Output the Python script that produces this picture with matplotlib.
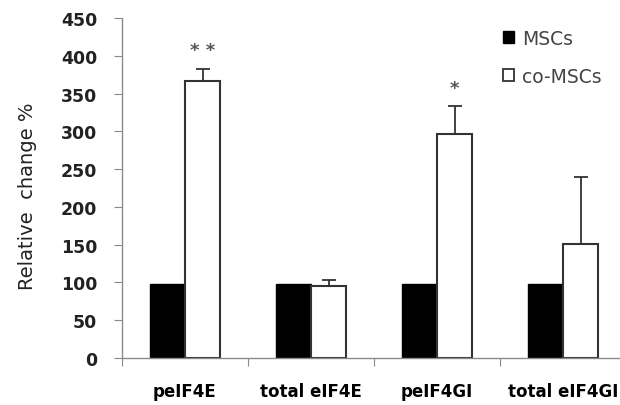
import numpy as np
import matplotlib.pyplot as plt
from matplotlib.patches import Patch

# data
categories = ['peIF4E', 'total eIF4E', 'peIF4GI', 'total eIF4GI']
msc_values = [98, 98, 98, 98]
co_values = [367, 95, 296, 151]
co_errors = [16, 8, 37, 89]
stars = ['* *', '', '*', '']
series_names = ['MSCs', 'co-MSCs']

plt.rcParams['font.family'] = ['DejaVu Sans']

fig = plt.figure(figsize=(6.2, 4.06), dpi=100)
ax = fig.add_axes([122 / 620, 47 / 406, 504 / 620, 340 / 406])

x = np.arange(len(categories)) + 0.5
width = 0.28
grey = '#8a8a8a'

ax.bar(x - width / 2, msc_values, width, color='black', edgecolor='black', linewidth=1)
ax.bar(x + width / 2, co_values, width, color='white', edgecolor='#333333', linewidth=1.5)
ax.errorbar(x + width / 2, co_values, yerr=[np.zeros(len(co_errors)), co_errors],
            fmt='none', ecolor='#333333', elinewidth=1.3, capsize=5, capthick=1.3)

# significance marks above the error bars
for xi, v, e, s in zip(x, co_values, co_errors, stars):
    if s:
        ax.text(xi + width / 2, v + e + 24, s, ha='center', va='center',
                fontsize=13, color='#555555', fontweight='bold')

ax.set_xlim(0, 4)
ax.set_ylim(0, 450)
ax.set_yticks(range(0, 451, 50))
ax.set_xticks(range(0, 5))
ax.set_xticklabels([])
ax.set_xticks(x, minor=True)
ax.set_xticklabels(categories, minor=True, fontsize=12, fontweight='bold')
ax.tick_params(axis='x', which='minor', length=0, pad=17)
ax.tick_params(axis='x', which='major', length=5.8, color=grey, direction='out')
ax.tick_params(axis='y', length=5.8, color=grey, labelsize=12.5, pad=12)
for lab in ax.get_yticklabels():
    lab.set_fontweight('bold')
    lab.set_color('#222222')

for side in ['top', 'right']:
    ax.spines[side].set_visible(False)
for side in ['left', 'bottom']:
    ax.spines[side].set_color(grey)
    ax.spines[side].set_linewidth(1)

ax.set_ylabel('Relative  change %', fontsize=14, color='#222222')
ax.yaxis.set_label_coords(-0.168, 0.48)

handles = [Patch(facecolor='black', edgecolor='black'),
           Patch(facecolor='white', edgecolor='#333333', linewidth=1.3)]
fig.legend(handles, series_names, loc='upper left', bbox_to_anchor=(486 / 620, 1 - 13 / 406),
           frameon=False, fontsize=13.5, handlelength=0.6, handleheight=0.6,
           handletextpad=0.4, labelspacing=1.0, labelcolor='#444444')

fig.savefig('out.png', dpi=100)
